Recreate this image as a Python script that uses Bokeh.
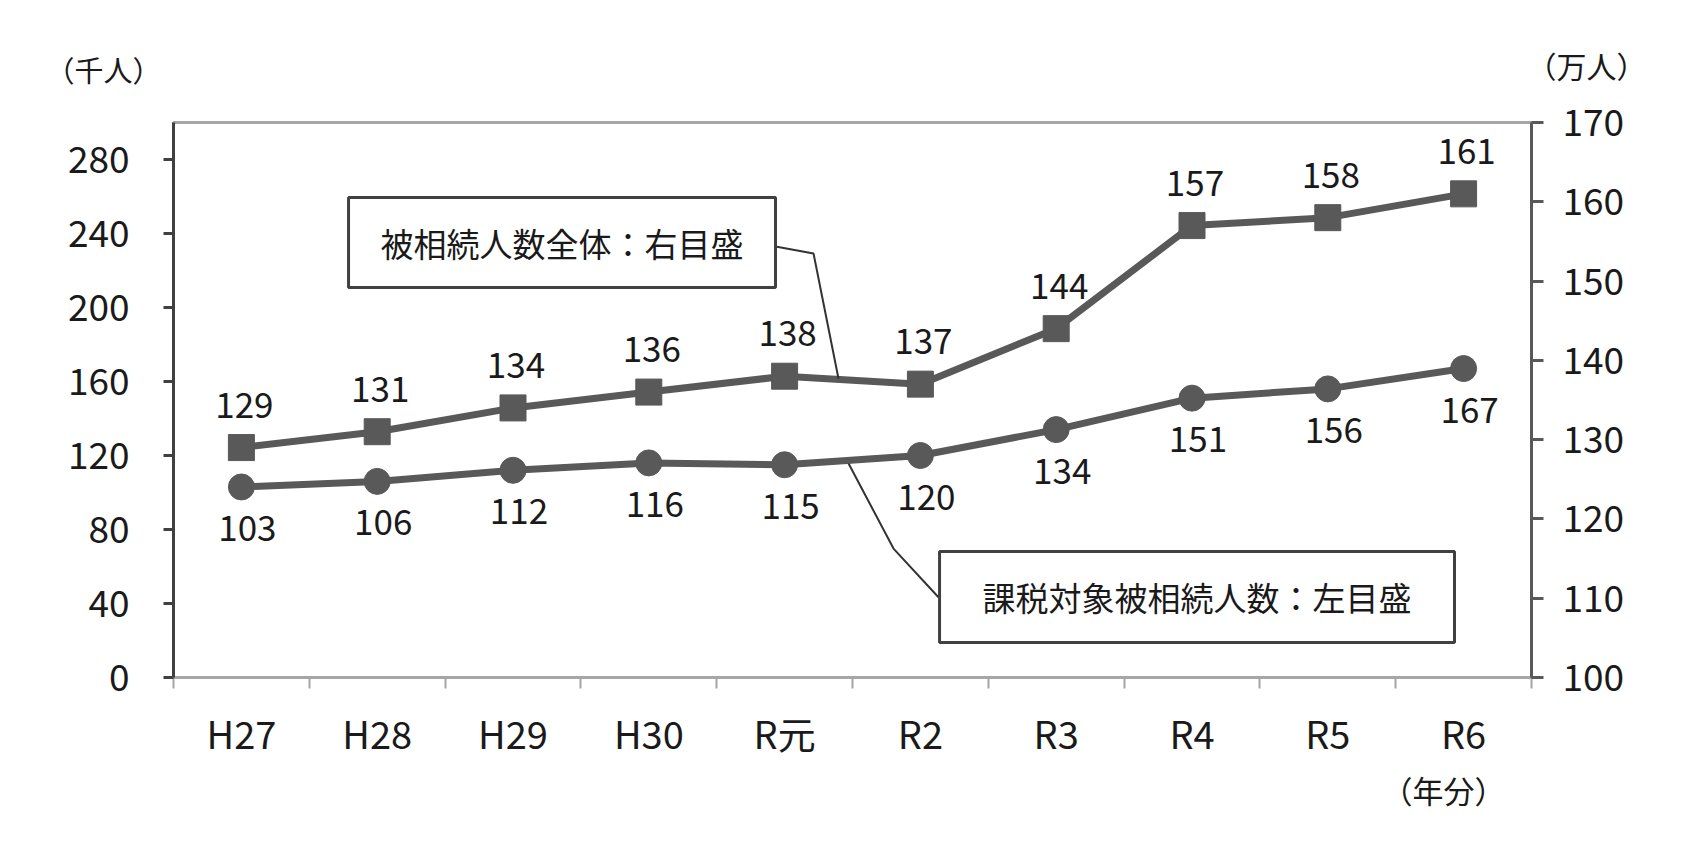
from bokeh.plotting import figure
from bokeh.layouts import column, row
from bokeh.models import Range1d, LinearAxis, FixedTicker, Label, Title
from bokeh.embed import file_html
from bokeh.resources import INLINE
from bokeh.core.properties import value

years = ["H27", "H28", "H29", "H30", "R元", "R2", "R3", "R4", "R5", "R6"]
total_10k = [129, 131, 134, 136, 138, 137, 144, 157, 158, 161]      # 被相続人数全体（万人）右目盛
taxable_1k = [103, 106, 112, 116, 115, 120, 134, 151, 156, 167]     # 課税対象被相続人数（千人）左目盛
left_ticks = [0, 40, 80, 120, 160, 200, 240, 280]
right_ticks = [100, 110, 120, 130, 140, 150, 160, 170]

FONT = "Noto Sans CJK JP"
LINE = "#595959"
TXT = "#1a1a1a"
W = 1674
HEAD_H = 88
MAIN_H = 754

xs = [i + 0.5 for i in range(len(years))]

# ---- header strip holding the unit captions above the plot ----
hdr = figure(width=W, height=HEAD_H, output_backend="svg", toolbar_location=None,
             x_range=Range1d(0, W), y_range=Range1d(0, HEAD_H),
             x_axis_location=None, y_axis_location=None,
             min_border=0, outline_line_color=None)
hdr.xgrid.visible = False
hdr.ygrid.visible = False
hdr.add_layout(Label(x=103, y=HEAD_H - 68, text="（千人）", text_align="center",
                     text_baseline="middle", text_font=FONT, text_font_size="29px",
                     text_color=TXT))
hdr.add_layout(Label(x=1586, y=HEAD_H - 64, text="（万人）", text_align="center",
                     text_baseline="middle", text_font=FONT, text_font_size="30px",
                     text_color=TXT))

# ---- main chart ----
p = figure(width=W, height=MAIN_H, output_backend="svg", toolbar_location=None,
           x_range=Range1d(0, len(years)), y_range=Range1d(0, 300),
           min_border_left=173, min_border_right=143, min_border_top=122 - HEAD_H,
           min_border_bottom=165)
p.extra_y_ranges = {"right": Range1d(100, 170)}
p.xgrid.visible = False
p.ygrid.visible = False
p.background_fill_color = "white"
p.border_fill_color = "white"
p.outline_line_color = "#a6a6a6"
p.outline_line_width = 3

# x axis
xa = p.xaxis[0]
xa.ticker = FixedTicker(ticks=xs, minor_ticks=list(range(len(years) + 1)))
xa.major_label_overrides = {x: y for x, y in zip(xs, years)}
xa.axis_line_color = "#a6a6a6"
xa.axis_line_width = 3
xa.major_tick_out = 0
xa.major_tick_in = 0
xa.minor_tick_out = 11
xa.minor_tick_in = 0
xa.minor_tick_line_color = "#a6a6a6"
xa.minor_tick_line_width = 2
xa.major_label_standoff = 16
xa.major_label_text_font = FONT
xa.major_label_text_font_size = "38px"
xa.major_label_text_color = TXT

# left axis
la = p.yaxis[0]
la.ticker = FixedTicker(ticks=left_ticks)
la.axis_line_color = "#404040"
la.axis_line_width = 3
la.major_tick_out = 10
la.major_tick_in = 0
la.major_tick_line_color = "#404040"
la.major_tick_line_width = 3
la.minor_tick_out = 0
la.minor_tick_in = 0
la.major_label_standoff = 34
la.major_label_text_font = FONT
la.major_label_text_font_size = "37px"
la.major_label_text_color = TXT

# right axis
ra = LinearAxis(y_range_name="right", ticker=FixedTicker(ticks=right_ticks))
ra.axis_line_color = "#595959"
ra.axis_line_width = 3
ra.major_tick_out = 12
ra.major_tick_in = 0
ra.major_tick_line_color = "#595959"
ra.major_tick_line_width = 3
ra.minor_tick_out = 0
ra.minor_tick_in = 0
ra.major_label_standoff = 19
ra.major_label_text_font = FONT
ra.major_label_text_font_size = "37px"
ra.major_label_text_color = TXT
p.add_layout(ra, "right")

# series: taxable (left axis)
p.line(xs, taxable_1k, line_width=7, line_color=LINE)
p.scatter(xs, taxable_1k, marker="circle", size=26, fill_color=LINE, line_color=LINE)
p.text(xs, taxable_1k, text=[str(v) for v in taxable_1k], x_offset=6, y_offset=41,
       text_align="center", text_baseline="middle", text_font=value(FONT),
       text_font_size="35px", text_color=TXT)

# series: total (right axis)
p.line(xs, total_10k, y_range_name="right", line_width=7, line_color=LINE)
p.scatter(xs, total_10k, y_range_name="right", marker="square", size=26,
          fill_color=LINE, line_color=LINE)
p.text(xs, total_10k, y_range_name="right", text=[str(v) for v in total_10k],
       x_offset=3, y_offset=-43, text_align="center", text_baseline="middle",
       text_font=value(FONT), text_font_size="35px", text_color=TXT)

# callouts (annotation positions in left-axis data units)
p.line([4.433, 4.713, 4.897], [233.0, 229.2, 161.5], line_color="#333333", line_width=2)
p.line([4.971, 5.302, 5.633], [115.7, 69.7, 43.4], line_color="#333333", line_width=2)
p.quad(left=[1.289], right=[4.433], top=[259.5], bottom=[210.8],
       fill_color="white", line_color="#404040", line_width=3)
p.quad(left=[5.641], right=[9.433], top=[68.1], bottom=[18.9],
       fill_color="white", line_color="#404040", line_width=3)
p.add_layout(Label(x=2.861, y=235.1, text="被相続人数全体：右目盛", text_align="center",
                   text_baseline="middle", text_font=FONT, text_font_size="33px",
                   text_color=TXT))
p.add_layout(Label(x=7.537, y=43.5, text="課税対象被相続人数：左目盛", text_align="center",
                   text_baseline="middle", text_font=FONT, text_font_size="33px",
                   text_color=TXT))

p.add_layout(Title(text="（年分）", align="right", offset=26, text_font=FONT,
                   text_font_size="31px", text_font_style="normal", text_color=TXT,
                   standoff=4), "below")

layout = column(row(hdr), p, spacing=0)
open("out.html", "w").write(file_html(layout, INLINE))
